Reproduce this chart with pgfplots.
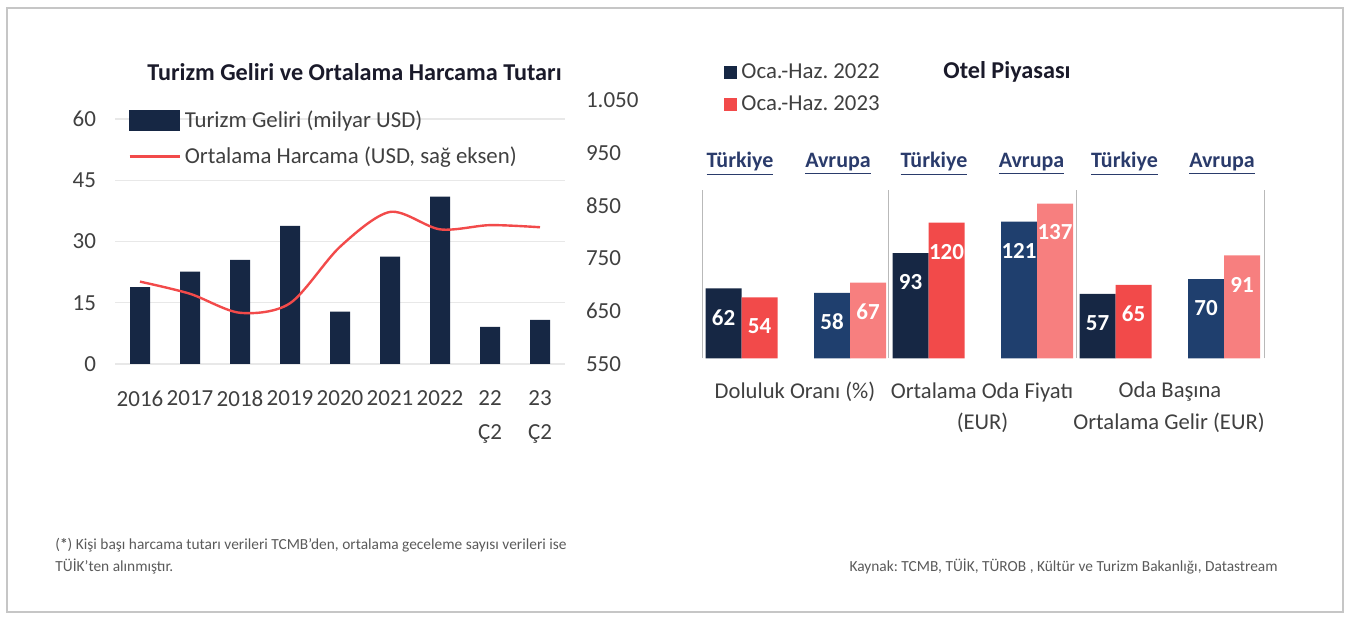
\documentclass[border=0pt]{standalone}
\usepackage{pgfplots}
\pgfplotsset{compat=1.18}
\usepackage{fontspec}
\setmainfont{Carlito}
\frenchspacing

\definecolor{lacivert}{HTML}{162744}
\definecolor{kirmizi}{HTML}{F24A4A}
\definecolor{mavi}{HTML}{1F3F6E}
\definecolor{pembe}{HTML}{F77F7F}
\definecolor{yazi}{HTML}{404040}
\definecolor{baslik}{HTML}{1A1A2A}
\definecolor{ustbaslik}{HTML}{2A3B6B}
\definecolor{dipnot}{HTML}{5A5A5A}

\begin{document}
\begin{tikzpicture}
\useasboundingbox (0pt,0pt) rectangle (674.5pt,308pt);
\draw[gray!45, line width=1pt] (3.5pt,304pt) rectangle (671.5pt,2pt);

% --- sol grafik: turizm geliri (bar, sol eksen)
\begin{axis}[
  at={(57.5pt,126pt)}, anchor=south west,
  scale only axis, width=225pt, height=132pt,
  xmin=-0.5, xmax=8.5, ymin=0, ymax=64.65,
  axis line style={draw=none}, major tick length=0pt,
  ytick={0,15,30,45,60},
  ymajorgrids, grid style={gray!18, line width=0.6pt},
  xtick={0,...,8},
  xticklabels={2016,2017,2018,2019,2020,2021,2022,{22\\Ç2},{23\\Ç2}},
  tick label style={font=\fontsize{11.5}{16.8}\selectfont, text=yazi},
  /pgf/number format/assume math mode=true,
  xticklabel style={align=center, yshift=-10pt},
  yticklabel style={xshift=-6pt},
  ybar, bar width=10pt,
]
\addplot[fill=lacivert, draw=none] coordinates {
  (0,18.8) (1,22.6) (2,25.5) (3,33.8) (4,12.8) (5,26.3) (6,41.0) (7,9.1) (8,10.8)};
\end{axis}

% --- sol grafik: ortalama harcama (cizgi, sag eksen)
\begin{axis}[
  at={(57.5pt,126pt)}, anchor=south west,
  scale only axis, width=225pt, height=132pt,
  xmin=-0.5, xmax=8.5, ymin=550, ymax=1050,
  axis line style={draw=none}, major tick length=0pt,
  xtick=\empty,
  yticklabel pos=right,
  ytick={550,650,750,850,950,1050},
  yticklabels={550,650,750,850,950,{1.050}},
  tick label style={font=\fontsize{11.5}{13}\selectfont, text=yazi},
  yticklabel style={xshift=7pt},
  legend style={at={(0.029,0.975)}, anchor=north west, draw=none, fill=none,
    font=\fontsize{11.4}{13}\selectfont, text=yazi, row sep=4pt, inner sep=0pt,
    cells={anchor=west}},
]
\addlegendimage{legend image code/.code={\fill[lacivert] (0pt,-5pt) rectangle (25pt,5pt);}}
\addlegendentry{Turizm Geliri (milyar USD)}
\addplot[kirmizi, line width=1.2pt, smooth,
  legend image code/.code={\draw[kirmizi, line width=1.2pt] (0pt,0pt) -- (25pt,0pt);}]
  coordinates {(0,706) (1,683) (2,647) (3,665) (4,772) (5,838) (6,805) (7,813) (8,809)};
\addlegendentry{Ortalama Harcama (USD, sağ eksen)}
\end{axis}

% --- sag grafik: otel piyasasi
\begin{axis}[
  at={(351.25pt,128.85pt)}, anchor=south west,
  scale only axis, width=281pt, height=84pt,
  xmin=702.5, xmax=1264.5, ymin=0, ymax=148.7,
  axis line style={draw=none}, major tick length=0pt,
  xtick={702.5,888.5,1076.5,1264.5}, xticklabels={,,,},
  xmajorgrids, grid style={gray!55, line width=0.6pt},
  ytick=\empty,
  ybar, bar width=18pt, bar shift=0pt,
  /pgf/number format/assume math mode=true,
  nodes near coords,
  every node near coord/.append style={anchor=center, yshift=-14.5pt, text=white,
    font=\bfseries\fontsize{11.5}{13}\selectfont},
  legend style={at={(0.038,1.78)}, anchor=north west, draw=none, fill=none,
    font=\fontsize{11.4}{13}\selectfont, text=yazi, row sep=3pt, inner sep=0pt,
    cells={anchor=west}, nodes={inner xsep=2pt}},
  legend image code/.code={\fill[#1] (0pt,-3.3pt) rectangle (6.6pt,3.3pt);},
]
\addplot[fill=lacivert, draw=none] coordinates {(723.5,62) (910.5,93) (1097.5,57)};
\addlegendentry{Oca.-Haz. 2022}
\addplot[fill=kirmizi, draw=none] coordinates {(759.5,54) (946.5,120) (1133.5,65)};
\addlegendentry{Oca.-Haz. 2023}
\addplot[fill=mavi, draw=none, forget plot] coordinates {(832,58) (1019,121) (1206,70)};
\addplot[fill=pembe, draw=none, forget plot] coordinates {(868,67) (1055,137) (1242,91)};
\end{axis}

\begin{scope}[x=0.5pt,y=0.5pt]
\node[font=\bfseries\fontsize{12.1}{14}\selectfont, text=baslik] at (354.5,544) {Turizm Geliri ve Ortalama Harcama Tutarı};
\node[font=\bfseries\fontsize{12.1}{14}\selectfont, text=baslik] at (1007,544) {Otel Piyasası};

\begin{scope}[every node/.style={font=\bfseries\fontsize{11}{13}\selectfont, text=ustbaslik}]
\node at (740,452) {\underline{Türkiye}};
\node at (838,452) {\underline{Avrupa}};
\node at (934,452) {\underline{Türkiye}};
\node at (1031.5,452) {\underline{Avrupa}};
\node at (1124.5,452) {\underline{Türkiye}};
\node at (1222,452) {\underline{Avrupa}};
\end{scope}

\begin{scope}[every node/.style={font=\fontsize{11.3}{13}\selectfont, text=yazi}]
\node at (795,224) {Doluluk Oranı (\%)};
\node at (982,224) {Ortalama Oda Fiyatı};
\node at (982.5,193) {(EUR)};
\node at (1170,224) {Oda Başına};
\node at (1169,193) {Ortalama Gelir (EUR)};
\end{scope}

\begin{scope}[every node/.style={font=\fontsize{7.7}{9}\selectfont, text=dipnot, inner sep=0pt}]
\node[anchor=west] at (55,71) {(\textbf{*}) Kişi başı harcama tutarı verileri TCMB’den, ortalama geceleme sayısı verileri ise};
\node[anchor=west] at (55,49) {TÜİK’ten alınmıştır.};
\node[anchor=east] at (1278,49) {Kaynak: TCMB, TÜİK, TÜROB , Kültür ve Turizm Bakanlığı, Datastream};
\end{scope}
\end{scope}
\end{tikzpicture}
\end{document}
